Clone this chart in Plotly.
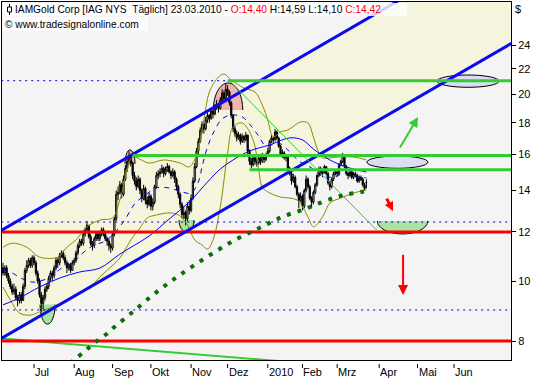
import numpy as np
import pandas as pd
import plotly.graph_objects as go

# ------------------------------------------------------------------ calendar
FIRST_DAY = "2009-06-08"
AXIS_LAST_DAY = "2010-07-30"
HOLIDAYS = ["2009-07-03", "2009-09-07", "2009-11-26", "2009-12-25", "2010-01-01",
            "2010-01-18", "2010-02-15", "2010-04-02", "2010-05-31", "2010-07-05"]
MONTH_STARTS = ["2009-07-01", "2009-08-01", "2009-09-01", "2009-10-01", "2009-11-01",
                "2009-12-01", "2010-01-01", "2010-02-01", "2010-03-01", "2010-04-01",
                "2010-05-01", "2010-06-01"]
MONTH_LABELS = ["Jul", "Aug", "Sep", "Okt", "Nov", "Dez", "2010", "Feb", "Mrz", "Apr", "Mai", "Jun"]
Y_TICKS = [8, 10, 12, 14, 16, 18, 20, 22, 24]

# ------------------------------------------------------------------ daily bars (trading-day index 0 = 08.06.2009)
opens = [10.5, 10.3, 10.5, 10.2, 10.0, 9.8, 9.6, 9.7, 9.4, 9.3,
         9.5, 9.3, 9.8, 10.4, 10.6, 10.8, 10.6, 10.9, 10.7, 10.3,
         10.0, 9.5, 9.2, 9.4, 9.7, 9.8, 10.1, 10.3, 10.2, 10.5,
         10.8, 10.7, 11.0, 11.1, 10.9, 10.7, 10.5, 10.6, 10.4, 10.7,
         10.8, 11.1, 11.4, 11.6, 11.5, 11.9, 12.1, 12.3, 11.8, 11.5,
         11.4, 11.7, 11.9, 11.7, 11.9, 12.1, 11.9, 11.7, 11.6, 11.4,
         11.3, 11.9, 12.6, 13.8, 13.9, 14.3, 13.8, 14.6, 15.2, 15.6,
         15.9, 15.5, 14.8, 14.5, 14.2, 14.6, 14.0, 13.6, 14.1, 13.5,
         13.3, 13.7, 13.2, 13.4, 14.2, 14.8, 14.9, 15.0, 15.2, 14.9,
         15.1, 15.3, 15.0, 14.8, 15.0, 14.6, 14.2, 13.8, 13.3, 12.8,
         12.9, 12.6, 13.2, 13.0, 13.6, 14.5, 15.3, 16.2, 16.8, 17.5,
         17.9, 17.6, 18.2, 18.5, 18.3, 18.8, 18.6, 19.1, 19.3, 19.0,
         19.6, 20.1, 19.7, 20.4, 20.2, 19.4, 18.5, 17.6, 17.3, 17.0,
         17.2, 16.8, 17.1, 16.9, 17.2, 16.2, 15.6, 15.4, 15.8, 15.6,
         15.5, 15.8, 15.6, 15.9, 15.7, 16.0, 16.2, 16.8, 17.0, 16.9,
         17.4, 17.0, 16.5, 16.0, 16.1, 15.8, 15.9, 15.2, 14.9, 14.5,
         14.7, 14.2, 13.8, 13.5, 13.7, 13.2, 14.0, 14.6, 14.2, 13.6,
         13.4, 13.9, 14.3, 14.8, 15.2, 14.9, 15.0, 15.3, 14.9, 14.4,
         14.2, 14.6, 14.9, 15.0, 14.9, 15.4, 15.6, 15.9, 15.3, 14.9,
         14.8, 15.0, 14.7, 14.9, 14.8, 14.5, 14.7, 14.6, 14.3, 14.40]
highs = [10.7, 10.6, 10.6, 10.3, 10.1, 9.9, 9.9, 9.8, 9.5, 9.6,
         9.6, 9.9, 10.5, 10.8, 10.9, 10.9, 11.0, 11.0, 10.8, 10.4,
         10.1, 9.6, 9.5, 9.8, 9.9, 10.2, 10.4, 10.4, 10.6, 10.9,
         10.9, 11.1, 11.2, 11.2, 11.0, 10.8, 10.7, 10.7, 10.8, 10.9,
         11.2, 11.5, 11.7, 11.7, 12.0, 12.2, 12.5, 12.3, 11.9, 11.6,
         11.8, 12.0, 12.0, 12.0, 12.2, 12.2, 12.0, 11.8, 11.7, 11.5,
         12.0, 12.7, 14.0, 14.2, 14.5, 14.4, 14.8, 15.4, 15.8, 16.2,
         16.0, 15.6, 15.0, 14.7, 14.8, 14.7, 14.1, 14.3, 14.2, 13.7,
         13.9, 13.8, 13.6, 14.3, 15.0, 15.1, 15.2, 15.4, 15.3, 15.3,
         15.5, 15.4, 15.1, 15.2, 15.1, 14.7, 14.3, 13.9, 13.4, 13.2,
         13.0, 13.4, 13.5, 13.8, 14.7, 15.5, 16.4, 17.0, 17.7, 18.1,
         18.0, 18.4, 18.7, 18.6, 19.0, 18.9, 19.3, 19.6, 19.4, 19.8,
         20.4, 20.3, 20.8, 20.7, 20.3, 19.5, 18.6, 17.8, 17.5, 17.4,
         17.3, 17.3, 17.2, 17.4, 17.2, 16.3, 15.8, 16.0, 15.9, 15.8,
         16.0, 15.9, 16.1, 16.0, 16.1, 16.4, 16.9, 17.2, 17.1, 17.6,
         17.5, 17.1, 16.6, 16.3, 16.2, 16.0, 15.9, 15.3, 15.0, 14.9,
         14.8, 14.3, 13.9, 13.9, 13.8, 14.1, 14.8, 14.7, 14.3, 13.7,
         14.0, 14.4, 14.9, 15.3, 15.3, 15.1, 15.4, 15.3, 15.0, 14.5,
         14.7, 15.0, 15.1, 15.1, 15.5, 15.7, 16.1, 15.9, 15.4, 15.0,
         15.1, 15.1, 15.0, 15.0, 14.9, 14.8, 14.8, 14.7, 14.4, 14.59]
lows = [10.2, 10.2, 10.1, 9.9, 9.7, 9.5, 9.5, 9.3, 9.1, 9.2,
        9.2, 9.3, 9.7, 10.3, 10.5, 10.5, 10.5, 10.6, 10.2, 9.9,
        9.4, 8.9, 9.0, 9.3, 9.6, 9.7, 10.0, 10.0, 10.1, 10.4,
        10.5, 10.6, 10.9, 10.8, 10.6, 10.3, 10.4, 10.3, 10.4, 10.6,
        10.7, 11.0, 11.3, 11.4, 11.4, 11.8, 12.0, 11.7, 11.4, 11.2,
        11.3, 11.6, 11.6, 11.6, 11.8, 11.8, 11.6, 11.4, 11.2, 11.1,
        11.2, 11.8, 12.5, 13.5, 13.8, 13.6, 13.7, 14.5, 15.0, 15.4,
        15.3, 14.6, 14.3, 14.0, 14.1, 13.8, 13.4, 13.5, 13.3, 13.1,
        13.2, 13.0, 13.0, 13.3, 14.1, 14.6, 14.7, 14.9, 14.7, 14.8,
        15.0, 14.9, 14.6, 14.7, 14.4, 14.0, 13.6, 13.1, 12.6, 12.6,
        12.3, 12.5, 12.8, 12.9, 13.5, 14.4, 15.2, 16.0, 16.7, 17.3,
        17.3, 17.5, 18.0, 18.0, 18.2, 18.3, 18.5, 18.9, 18.7, 18.9,
        19.5, 19.4, 19.6, 19.9, 19.2, 18.3, 17.4, 17.1, 16.8, 16.9,
        16.6, 16.7, 16.7, 16.8, 16.0, 15.4, 15.2, 15.3, 15.4, 15.3,
        15.4, 15.4, 15.5, 15.5, 15.6, 15.9, 16.1, 16.7, 16.7, 16.8,
        16.9, 16.4, 15.9, 15.8, 15.7, 15.6, 15.1, 14.8, 14.3, 14.4,
        14.1, 13.7, 13.1, 13.4, 13.0, 13.1, 13.9, 14.1, 13.5, 13.1,
        13.3, 13.8, 14.2, 14.7, 14.8, 14.7, 14.9, 14.8, 14.3, 14.0,
        14.1, 14.5, 14.8, 14.7, 14.8, 15.3, 15.5, 15.2, 14.8, 14.6,
        14.7, 14.6, 14.6, 14.7, 14.4, 14.4, 14.5, 14.2, 14.0, 14.10]
closes = [10.3, 10.5, 10.2, 10.0, 9.8, 9.6, 9.7, 9.4, 9.3, 9.5,
          9.3, 9.8, 10.4, 10.6, 10.8, 10.6, 10.9, 10.7, 10.3, 10.0,
          9.5, 9.2, 9.4, 9.7, 9.8, 10.1, 10.3, 10.2, 10.5, 10.8,
          10.7, 11.0, 11.1, 10.9, 10.7, 10.5, 10.6, 10.4, 10.7, 10.8,
          11.1, 11.4, 11.6, 11.5, 11.9, 12.1, 12.3, 11.8, 11.5, 11.4,
          11.7, 11.9, 11.7, 11.9, 12.1, 11.9, 11.7, 11.6, 11.4, 11.3,
          11.9, 12.6, 13.8, 13.9, 14.3, 13.8, 14.6, 15.2, 15.6, 15.9,
          15.5, 14.8, 14.5, 14.2, 14.6, 14.0, 13.6, 14.1, 13.5, 13.3,
          13.7, 13.2, 13.4, 14.2, 14.8, 14.9, 15.0, 15.2, 14.9, 15.1,
          15.3, 15.0, 14.8, 15.0, 14.6, 14.2, 13.8, 13.3, 12.8, 12.9,
          12.6, 13.2, 13.0, 13.6, 14.5, 15.3, 16.2, 16.8, 17.5, 17.9,
          17.6, 18.2, 18.5, 18.3, 18.8, 18.6, 19.1, 19.3, 19.0, 19.6,
          20.1, 19.7, 20.4, 20.2, 19.4, 18.5, 17.6, 17.3, 17.0, 17.2,
          16.8, 17.1, 16.9, 17.2, 16.2, 15.6, 15.4, 15.8, 15.6, 15.5,
          15.8, 15.6, 15.9, 15.7, 16.0, 16.2, 16.8, 17.0, 16.9, 17.4,
          17.0, 16.5, 16.0, 16.1, 15.8, 15.9, 15.2, 14.9, 14.5, 14.7,
          14.2, 13.8, 13.5, 13.7, 13.2, 14.0, 14.6, 14.2, 13.6, 13.4,
          13.9, 14.3, 14.8, 15.2, 14.9, 15.0, 15.3, 14.9, 14.4, 14.2,
          14.6, 14.9, 15.0, 14.9, 15.4, 15.6, 15.9, 15.3, 14.9, 14.8,
          15.0, 14.7, 14.9, 14.8, 14.5, 14.7, 14.6, 14.3, 14.1, 14.42]

# ------------------------------------------------------------------ indicators (read at sample bars)
ma_short_idx = [0, 5, 11, 17, 26, 32, 38, 43, 49, 56, 61, 67, 72, 78, 84, 91, 98, 103, 107, 109,
                112, 116, 120, 125, 131, 135, 140, 144, 151, 156, 162, 169, 175, 181, 187, 194, 199]
ma_short_val = [10.42, 10.30, 10.07, 9.96, 10.15, 10.49, 10.69, 11.05, 11.39, 11.60,
                11.95, 12.59, 13.31, 13.77, 14.13, 14.13, 13.92, 13.87, 14.45, 15.28,
                16.46, 17.53, 18.26, 18.53, 18.40, 17.92, 17.14, 16.52, 16.70, 16.27,
                15.62, 15.22, 14.77, 14.72, 14.94, 14.77, 14.66]
ma_mid_idx = [0, 9, 20, 31, 42, 53, 64, 80, 91, 102, 112, 119, 126, 135, 146, 157, 164, 170, 179, 188, 199]
ma_mid_val = [9.15, 9.39, 9.78, 10.11, 10.34, 10.49, 11.05, 11.82, 12.59, 13.41,
              14.45, 15.16, 15.68, 16.21, 16.58, 17.02, 16.89, 16.33, 15.68, 15.28, 14.99]
ma_long_idx = [37, 39, 45, 50, 56, 61, 71, 82, 93, 104, 116, 127, 137, 146, 154, 164, 172, 181, 187, 196, 199]
ma_long_val = [7.35, 7.46, 7.71, 7.94, 8.18, 8.43, 8.91, 9.49, 10.04, 10.57,
               11.14, 11.65, 12.04, 12.41, 12.73, 13.02, 13.31, 13.61, 13.77, 13.92, 13.97]
band_up_idx = [0, 5, 13, 20, 30, 35, 40, 46, 53, 60, 64, 68, 71, 80, 88, 97, 102, 106, 110, 113,
               118, 121, 125, 132, 138, 142, 145, 148, 152, 156, 163, 167, 170, 173, 175, 183, 192, 199]
band_up_val = [11.34, 11.51, 11.34, 10.93, 10.93, 11.34, 11.65, 12.23, 12.54, 12.64,
               13.51, 15.11, 15.85, 15.50, 15.68, 15.50, 15.28, 15.97, 18.19, 20.18,
               21.34, 21.58, 21.10, 20.48, 20.18, 19.24, 18.19, 17.08, 17.40, 17.53,
               18.06, 17.99, 17.08, 16.09, 15.80, 15.85, 15.85, 15.68]
band_lo_idx = [0, 4, 9, 15, 21, 27, 35, 42, 48, 53, 59, 64, 70, 75, 79, 84, 92, 97, 101, 105,
               109, 112, 115, 119, 123, 126, 131, 137, 140, 142, 146, 152, 161, 167, 170, 175, 179, 185, 192, 199]
band_lo_val = [9.78, 9.32, 8.88, 8.81, 8.94, 9.08, 9.32, 9.56, 9.78, 10.15,
               10.53, 10.89, 11.65, 12.18, 12.64, 12.78, 12.88, 12.73, 12.31, 11.65,
               11.43, 11.26, 11.65, 13.17, 16.09, 17.72, 17.99, 16.89, 15.11, 14.18,
               13.87, 13.66, 13.51, 12.69, 12.23, 12.69, 13.36, 13.61, 13.87, 14.02]

# ------------------------------------------------------------------ drawn analysis (bar index, price)
channel_upper = ([-1, 280], [12.07, 36.36])
channel_lower = ([-1, 280], [8.08, 24.33])
red_levels = [12.0, 8.0]
green_levels = [(21.05, 123), (15.94, 71), (15.12, 135)]      # (price, first bar)
dotted_levels = [(21.05, -1, 123), (12.45, -1, 280), (8.98, -1, 280)]
thin_target_line = ([124, 205], [21.05, 12.05])
support_line = ([-1, 160], [8.08, 7.39])
top_zones = [(115.2, 131.3, 18.88), (66.8, 72.3, 15.45)]          # pink domes (start, end, base)
bottom_zones = [(20.3, 28.5, 9.16), (96.4, 104.6, 12.54), (205.0, 232.6, 12.50)]  # green bowls
target_zones = [(237.7, 271.6, 20.54, 21.50), (199.3, 232.7, 15.20, 15.91)]
arrows = [((216.9, 16.33), (227.3, 18.40), "#33CC33", 2, 1.0),
          ((209.7, 13.66), (213.6, 12.97), "#FF0000", 3, 0.6),
          ((219.1, 11.09), (219.1, 9.49), "#FF0000", 2, 1.0)]

# ------------------------------------------------------------------ layout geometry / styles
W, H = 533, 380
MARGIN = dict(l=2, r=22, t=2, b=20)
X_RANGE = [-0.55, 278.2]
Y_RANGE = [np.log10(7.456), np.log10(28.2)]
PLOT_W = W - MARGIN["l"] - MARGIN["r"]
PLOT_H = H - MARGIN["t"] - MARGIN["b"]
PX_PER_IDX = PLOT_W / (X_RANGE[1] - X_RANGE[0])
PX_PER_DEC = PLOT_H / (Y_RANGE[1] - Y_RANGE[0])
DOME_PX = [27, 14]
BOWL_PX = [19.5, 12, 13]
FONT = "Liberation Sans"
BEIGE = "#F5F4DC"
PLOT_BG = "#F4F4F4"


def paper_x(px):
    return (px - MARGIN["l"]) / PLOT_W


def paper_y(py):
    return 1 - (py - MARGIN["t"]) / PLOT_H


def idx_to_paper(i):
    return (i - X_RANGE[0]) / (X_RANGE[1] - X_RANGE[0])


trading_days = pd.bdate_range(FIRST_DAY, AXIS_LAST_DAY, freq="C", holidays=HOLIDAYS)
tick_idx = [int(np.searchsorted(trading_days.values, np.datetime64(m))) for m in MONTH_STARTS]

fig = go.Figure()
fig.add_trace(go.Candlestick(
    x=list(range(len(closes))), open=opens, high=highs, low=lows, close=closes,
    increasing=dict(line=dict(color="black", width=1), fillcolor="white"),
    decreasing=dict(line=dict(color="black", width=1), fillcolor="black"),
    whiskerwidth=0, hoverinfo="skip", showlegend=False))


def add_line(x, y, color, width, dash="solid", shape="linear"):
    fig.add_trace(go.Scatter(x=x, y=y, mode="lines", hoverinfo="skip", showlegend=False,
                             line=dict(color=color, width=width, dash=dash, shape=shape)))


add_line(band_up_idx, band_up_val, "#8C8C00", 1, shape="spline")
add_line(band_lo_idx, band_lo_val, "#8C8C00", 1, shape="spline")
add_line(ma_short_idx, ma_short_val, "#0000FF", 1, dash="5px,5px", shape="spline")
add_line(ma_mid_idx, ma_mid_val, "#0000FF", 1, shape="spline")
for lvl, a, b in dotted_levels:
    add_line([a, b], [lvl, lvl], "#0000CC", 1, dash="2px,4px")
add_line(support_line[0], support_line[1], "#33CC33", 2)
for lvl in red_levels:
    add_line([-1, 280], [lvl, lvl], "#FF0000", 3)
add_line(channel_upper[0], channel_upper[1], "#0A0AF0", 3)
add_line(channel_lower[0], channel_lower[1], "#0A0AF0", 3)
for lvl, a in green_levels:
    add_line([a, 280], [lvl, lvl], "#33CC33", 3)
add_line(thin_target_line[0], thin_target_line[1], "#33CC33", 1)
add_line(ma_long_idx, ma_long_val, "#0B6E0B", 4, dash="4px,7px", shape="spline")

shapes = []
ux, uy = channel_upper
lx, ly = channel_lower
shapes.append(dict(type="path", xref="x", yref="y", layer="below", line=dict(width=0),
                   fillcolor=BEIGE,
                   path=f"M{ux[0]},{uy[0]} L{ux[1]},{uy[1]} L{lx[1]},{ly[1]} L{lx[0]},{ly[0]} Z"))

K = 0.5523


def half_ellipse(x0, x1, base, depth_px, up):
    cx, rx = (x0 + x1) / 2, (x1 - x0) / 2
    b = np.log10(base)
    s = depth_px / PX_PER_DEC * (1 if up else -1)
    P = lambda x, lg: f"{x},{10 ** lg}"
    return (f"M{P(x0, b)} C{P(x0, b + K * s)} {P(cx - K * rx, b + s)} {P(cx, b + s)} "
            f"C{P(cx + K * rx, b + s)} {P(x1, b + K * s)} {P(x1, b)}")


for (x0, x1, base), d in zip(top_zones, DOME_PX):
    shapes.append(dict(type="path", xref="x", yref="y", layer="below",
                       line=dict(color="black", width=1), fillcolor="#F2B3AC",
                       path=half_ellipse(x0, x1, base, d, True)))
for (x0, x1, base), d in zip(bottom_zones, BOWL_PX):
    shapes.append(dict(type="path", xref="x", yref="y", layer="below",
                       line=dict(color="black", width=1), fillcolor="#A9E3A2",
                       path=half_ellipse(x0, x1, base, d, False)))
for x0, x1, y0, y1 in target_zones:
    shapes.append(dict(type="circle", xref="x", yref="y", layer="below",
                       x0=x0, x1=x1, y0=y0, y1=y1,
                       line=dict(color="black", width=1), fillcolor="#DCDCF2"))

# header boxes + icon
shapes.append(dict(type="rect", xref="paper", yref="paper", layer="above", line=dict(width=0),
                   fillcolor="rgba(255,255,255,0.8)",
                   x0=paper_x(3), x1=paper_x(407), y0=paper_y(16), y1=paper_y(3)))
shapes.append(dict(type="rect", xref="paper", yref="paper", layer="above", line=dict(width=0),
                   fillcolor="rgba(255,255,255,0.8)",
                   x0=paper_x(3), x1=paper_x(148), y0=paper_y(31), y1=paper_y(17)))
shapes.append(dict(type="line", xref="paper", yref="paper", layer="above",
                   line=dict(color="black", width=1),
                   x0=paper_x(9.5), x1=paper_x(9.5), y0=paper_y(15), y1=paper_y(4)))
shapes.append(dict(type="rect", xref="paper", yref="paper", layer="above",
                   line=dict(color="black", width=1), fillcolor="white",
                   x0=paper_x(7.5), x1=paper_x(11.5), y0=paper_y(12), y1=paper_y(7)))
for t in tick_idx:
    shapes.append(dict(type="line", xref="paper", yref="paper", line=dict(color="black", width=1),
                       x0=idx_to_paper(t), x1=idx_to_paper(t), y0=paper_y(364), y1=paper_y(368)))

annotations = []
for t, lab in zip(tick_idx, MONTH_LABELS):
    annotations.append(dict(x=idx_to_paper(t), y=paper_y(372), xref="paper", yref="paper",
                            xanchor="left", yanchor="middle", xshift=0, text=lab, showarrow=False,
                            borderpad=0, font=dict(family=FONT, size=11, color="black")))


def fmt(v):
    return f"{v:.2f}".replace(".", ",")


header = (f"IAMGold Corp [IAG NYS\u00a0\u00a0Täglich] 23.03.2010 - "
          f"<span style='color:#FF0000'>O:{fmt(opens[-1])}</span> H:{fmt(highs[-1])} "
          f"L:{fmt(lows[-1])} <span style='color:#FF0000'>C:{fmt(closes[-1])}</span>")
annotations.append(dict(x=paper_x(14), y=paper_y(9.5), xref="paper", yref="paper",
                        xanchor="left", yanchor="middle", text=header, showarrow=False,
                        borderpad=0, font=dict(family=FONT, size=10.2, color="black")))
annotations.append(dict(x=paper_x(4), y=paper_y(24.5), xref="paper", yref="paper",
                        xanchor="left", yanchor="middle", text="© www.tradesignalonline.com",
                        borderpad=0, showarrow=False, font=dict(family=FONT, size=10.2, color="black")))
annotations.append(dict(x=paper_x(518), y=paper_y(9.5), xref="paper", yref="paper",
                        xanchor="center", yanchor="middle", text="$", showarrow=False,
                        font=dict(family=FONT, size=11, color="black")))
for (tx, tp), (hx, hp), col, wdt, hsize in arrows:
    annotations.append(dict(x=hx, y=np.log10(hp), xref="x", yref="y",
                            ax=(tx - hx) * PX_PER_IDX,
                            ay=-(np.log10(tp) - np.log10(hp)) * PX_PER_DEC,
                            axref="pixel", ayref="pixel", text="", showarrow=True,
                            arrowhead=2, arrowsize=hsize, arrowwidth=wdt, arrowcolor=col))

fig.update_layout(
    width=W, height=H, margin=MARGIN, paper_bgcolor="white", plot_bgcolor=PLOT_BG,
    showlegend=False, boxgap=0.05, shapes=shapes, annotations=annotations,
    xaxis=dict(range=X_RANGE, showgrid=False, zeroline=False, showticklabels=False, ticks="",
               showline=True, mirror=True, linecolor="black", linewidth=1,
               rangeslider=dict(visible=False), fixedrange=True),
    yaxis=dict(type="log", range=Y_RANGE, side="right", showgrid=False, zeroline=False,
               tickvals=Y_TICKS, ticktext=[str(v) for v in Y_TICKS], ticks="outside",
               ticklen=4, tickcolor="black", showline=True, mirror=True, linecolor="black",
               linewidth=1, tickfont=dict(family=FONT, size=11, color="black"), fixedrange=True),
)

fig.write_html("out.html", config={"displayModeBar": False},
               post_script="document.body.style.margin='0px';")
